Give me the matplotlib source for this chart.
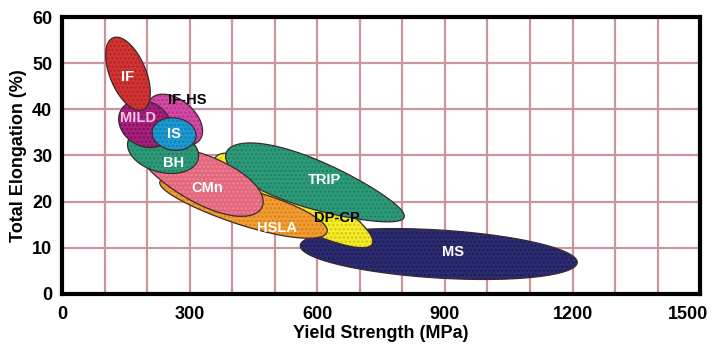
import numpy as np
import matplotlib
matplotlib.use("Agg")
import matplotlib.pyplot as plt
from matplotlib.patches import Polygon
from matplotlib.ticker import MultipleLocator
from matplotlib.transforms import ScaledTranslation

# steel families, drawn back to front
names = ["MS", "DP-CP", "TRIP", "HSLA", "CMn", "BH", "IF-HS", "MILD", "IS", "IF"]
# ends of each band: yield strength (MPa), elongation (%)
start_ys = [560, 360, 386, 230, 183, 155, 208, 139, 212, 120]
start_el = [10.5, 29.5, 30.6, 24.3, 31.2, 33.1, 42.2, 39.9, 35.3, 55.5]
end_ys = [1211, 729, 804, 623, 470, 320, 323, 252, 315, 190]
end_el = [6.8, 10.8, 16.6, 13.4, 18.8, 29.2, 33.3, 33.8, 34.0, 39.9]
# half width of each band (% elongation) and how much it swells toward the end
half_width = [5.2, 4.8, 5.2, 3.9, 5.2, 4.8, 4.3, 4.8, 3.5, 3.9]
taper = [0.0, -0.4, -1.3, 0.4, 0.9, 0.0, 0.0, 0.0, 0.0, 0.0]
# where each name is written
label_ys = [919, 647, 618, 506, 341, 261, 294, 179, 263, 155]
label_el = [9.1, 16.5, 24.7, 14.3, 23.0, 28.4, 42.0, 38.1, 34.7, 47.0]

x_ticks = [0, 300, 600, 900, 1200, 1500]
y_ticks = [0, 10, 20, 30, 40, 50, 60]

colors = {
    "MS": "#2d2d6e", "DP-CP": "#f6ee2a", "TRIP": "#2e9b78", "HSLA": "#f29e32",
    "CMn": "#e0687a", "BH": "#2e9b78", "IF-HS": "#d64aa6", "MILD": "#a4237c",
    "IS": "#1c9bd0", "IF": "#d23434",
}
dot_colors = {
    "MS": "#10105a", "DP-CP": "#b8b000", "TRIP": "#14705a", "HSLA": "#c87010",
    "CMn": "#ff90b0", "BH": "#14705a", "IF-HS": "#a02080", "MILD": "#700050",
    "IS": "#106aa0", "IF": "#a01818",
}
text_colors = {"IF-HS": "black", "DP-CP": "black", "MILD": "#f2c0e2"}

FONT = ["Liberation Sans", "DejaVu Sans"]
plt.rcParams["font.family"] = FONT
plt.rcParams["hatch.linewidth"] = 1.2

fig = plt.figure(figsize=(7.13, 3.55), dpi=100)
ax = fig.add_axes([0.087, 0.172, 0.895, 0.780])
ax.set_xlim(0, 1500)
ax.set_ylim(0, 60)

# pixels per data unit, so the bands are built in screen-square space
box = ax.get_position()
w_in, h_in = fig.get_size_inches()
sx = box.width * w_in * fig.dpi / 1500
sy = box.height * h_in * fig.dpi / 60


def band(x1, y1, x2, y2, hw, k, n=120):
    u1, v1, u2, v2 = x1 * sx, y1 * sy, x2 * sx, y2 * sy
    length = np.hypot(u2 - u1, v2 - v1)
    d = np.array([u2 - u1, v2 - v1]) / length
    nrm = np.array([-d[1], d[0]])
    mid = np.array([(u1 + u2) / 2, (v1 + v2) / 2])
    s = -np.cos(np.linspace(0, np.pi, n))
    half = np.sqrt(np.clip(1 - s**2, 0, None)) * (hw + k * s) * sy
    c = mid[None, :] + (s * length / 2)[:, None] * d[None, :]
    upper = c + half[:, None] * nrm[None, :]
    lower = c - half[:, None] * nrm[None, :]
    pts = np.vstack([upper, lower[::-1]])
    return np.column_stack([pts[:, 0] / sx, pts[:, 1] / sy])


for i, name in enumerate(names):
    pts = band(start_ys[i], start_el[i], end_ys[i], end_el[i], half_width[i], taper[i])
    z = 3 + i * 0.1
    ax.add_patch(Polygon(pts, closed=True, facecolor=colors[name],
                         edgecolor="none", zorder=z))
    # halftone-ish dots
    ax.add_patch(Polygon(pts, closed=True, facecolor="none", edgecolor=dot_colors[name],
                         linewidth=0, hatch="....", alpha=0.6, zorder=z + 0.01))
    ax.add_patch(Polygon(pts, closed=True, facecolor="none",
                         edgecolor="#3a2a30", linewidth=0.9, zorder=z + 0.02))
    ax.text(label_ys[i], label_el[i], name, color=text_colors.get(name, "white"),
            fontsize=10.5, fontweight="bold", ha="center", va="center",
            zorder=30, family=FONT)

# grid every 100 MPa and 10 %
ax.xaxis.set_major_locator(MultipleLocator(300))
ax.xaxis.set_minor_locator(MultipleLocator(100))
ax.set_yticks(y_ticks)
ax.set_xticks(x_ticks)
ax.grid(True, which="both", color="#c9979b", linewidth=1.6, zorder=1)
ax.set_axisbelow(True)

ax.tick_params(which="both", length=0, labelsize=13)
ax.tick_params(axis="x", pad=9)
ax.tick_params(axis="y", pad=7)
for lab in ax.get_xticklabels() + ax.get_yticklabels():
    lab.set_fontweight("bold")
# last x label is pulled in so it stays inside the picture
last = ax.get_xticklabels()[-1]
last.set_horizontalalignment("right")
last.set_transform(last.get_transform() + ScaledTranslation(8 / 100, 0, fig.dpi_scale_trans))

for side in ["top", "right", "left", "bottom"]:
    ax.spines[side].set_linewidth(3)
    ax.spines[side].set_color("black")
    ax.spines[side].set_zorder(40)

ax.set_xlabel("Yield Strength (MPa)", fontsize=13, fontweight="bold", labelpad=1)
ax.set_ylabel("Total Elongation (%)", fontsize=13, fontweight="bold", labelpad=4)

fig.savefig("out.png", dpi=100)
